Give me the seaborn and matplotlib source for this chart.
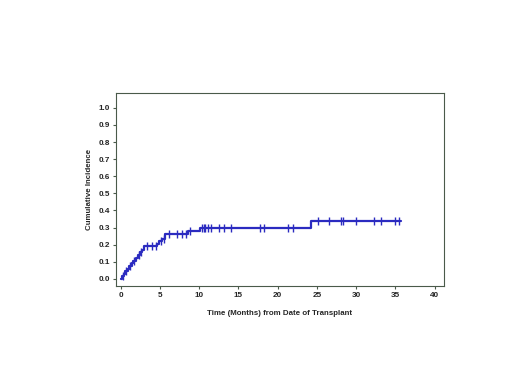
import numpy as np
import pandas as pd
import matplotlib
matplotlib.use('Agg')
import matplotlib.pyplot as plt
import seaborn as sns

# step function (months, cumulative incidence)
event_time = [0.0, 0.2, 0.4, 0.6, 0.9, 1.1, 1.4, 1.6, 1.9, 2.2, 2.4, 2.7, 3.0,
              4.6, 4.9, 5.3, 5.7, 8.6, 10.1, 24.3, 35.7]
event_cif = [0.0, 0.015, 0.03, 0.045, 0.06, 0.075, 0.09, 0.105, 0.12, 0.14, 0.155, 0.17, 0.19,
             0.205, 0.22, 0.235, 0.265, 0.28, 0.298, 0.336, 0.336]

# censored observations (months)
censor_time = [0.3, 0.7, 1.2, 1.7, 2.3, 2.6, 3.3, 4.0, 4.5, 5.1, 5.5,
               6.1, 7.2, 7.8, 8.3, 8.8, 10.3, 10.6, 10.8, 11.1, 11.5, 12.5, 13.1, 14.0,
               17.7, 18.2, 21.3, 21.9,
               25.2, 26.6, 28.1, 28.3, 30.0, 32.3, 33.2, 34.9, 35.4]

x_ticks = [0, 5, 10, 15, 20, 25, 30, 35, 40]
y_ticks = [0.0, 0.1, 0.2, 0.3, 0.4, 0.5, 0.6, 0.7, 0.8, 0.9, 1.0]

curve = pd.DataFrame({'time': event_time, 'cif': event_cif})
idx = np.searchsorted(event_time, censor_time, side='right') - 1
cens = pd.DataFrame({'time': censor_time, 'cif': np.array(event_cif)[idx]})

sns.set_style('white')
plt.rcParams['font.family'] = ['Liberation Sans', 'DejaVu Sans']

line_col = '#2b2bc0'
frame_col = '#4a5a4a'

fig = plt.figure(figsize=(5.2, 3.9), dpi=100)
ax = fig.add_axes([0.223, 0.267, 0.631, 0.495])

sns.lineplot(data=curve, x='time', y='cif', drawstyle='steps-post',
             color=line_col, linewidth=1.6, ax=ax)
sns.scatterplot(data=cens, x='time', y='cif', marker='|', s=28,
                color=line_col, linewidth=1.0, ax=ax)

ax.set_xlim(-0.6, 41.2)
ax.set_ylim(-0.041, 1.088)
ax.set_xticks(x_ticks)
ax.set_yticks(y_ticks)
ax.set_xticklabels([str(t) for t in x_ticks])
ax.set_yticklabels(['%.1f' % t for t in y_ticks])
ax.tick_params(axis='both', which='both', direction='out', length=2.5, width=0.8,
               color=frame_col, labelsize=5.9, pad=2,
               bottom=True, left=True, top=False, right=False)
for lab in ax.get_xticklabels() + ax.get_yticklabels():
    lab.set_fontweight('bold')

for sp in ax.spines.values():
    sp.set_color(frame_col)
    sp.set_linewidth(0.8)

ax.set_xlabel('Time (Months) from Date of Transplant', fontsize=5.7,
              fontweight='bold', labelpad=8)
ax.set_ylabel('Cumulative Incidence', fontsize=5.7, fontweight='bold', labelpad=4)

fig.savefig('out.png', dpi=100)
